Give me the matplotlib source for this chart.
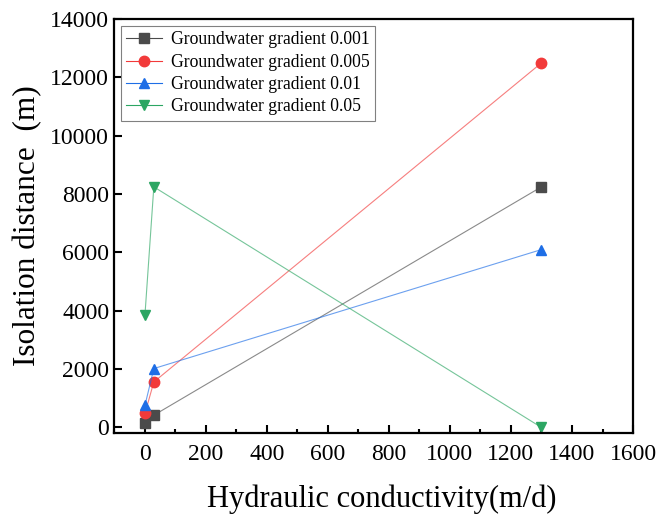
import matplotlib
matplotlib.use("Agg")
import matplotlib.pyplot as plt
from matplotlib.ticker import MultipleLocator

plt.rcParams['font.family'] = ['Liberation Serif', 'DejaVu Serif']

# hydraulic conductivity (m/d)
k = [1, 30, 1300]

# isolation distance (m) per groundwater gradient
g0001 = [150, 420, 8250]
g0005 = [480, 1560, 12500]
g001 = [760, 2020, 6100]
g005 = [3870, 8250, 0]

labels = ["Groundwater gradient 0.001", "Groundwater gradient 0.005",
          "Groundwater gradient 0.01", "Groundwater gradient 0.05"]
colors = ["#4b4b4b", "#f23a3a", "#1e6ee6", "#2ca663"]
markers = ["s", "o", "^", "v"]

fig = plt.figure(figsize=(6.56, 5.17), dpi=100)
ax = fig.add_axes([0.174, 0.163, 0.791, 0.8])

for ys, lab, c, m in zip([g0001, g0005, g001, g005], labels, colors, markers):
    # thin, faded connecting line + solid markers
    ax.plot(k, ys, color=c, linewidth=0.8, alpha=0.65)
    ax.plot(k, ys, color=c, marker=m, markersize=7.5, linestyle='none')
    # legend proxy
    ax.plot([], [], color=c, marker=m, markersize=7.5, linewidth=0.8, label=lab)

ax.set_xlim(-100, 1600)
ax.set_ylim(-180, 14000)
ax.xaxis.set_major_locator(MultipleLocator(200))
ax.xaxis.set_minor_locator(MultipleLocator(100))
ax.yaxis.set_major_locator(MultipleLocator(2000))

ax.tick_params(which='both', direction='in', width=1.5, labelsize=17)
ax.tick_params(which='major', length=6)
ax.tick_params(which='minor', length=3)
ax.tick_params(axis='x', pad=8)
for s in ax.spines.values():
    s.set_linewidth(1.6)

ax.set_xlabel("Hydraulic conductivity(m/d)", fontsize=22, labelpad=10)
ax.xaxis.set_label_coords(0.515, -0.125)
ax.set_ylabel("Isolation distance  (m)", fontsize=22.5, labelpad=6)

leg = ax.legend(loc='upper left', fontsize=12.7, fancybox=False,
                framealpha=1, edgecolor='#808080', borderpad=0.3,
                labelspacing=0.3, handlelength=2.0, handletextpad=0.5,
                borderaxespad=0.4)
leg.get_frame().set_linewidth(0.8)

fig.savefig("out.png", dpi=100)
